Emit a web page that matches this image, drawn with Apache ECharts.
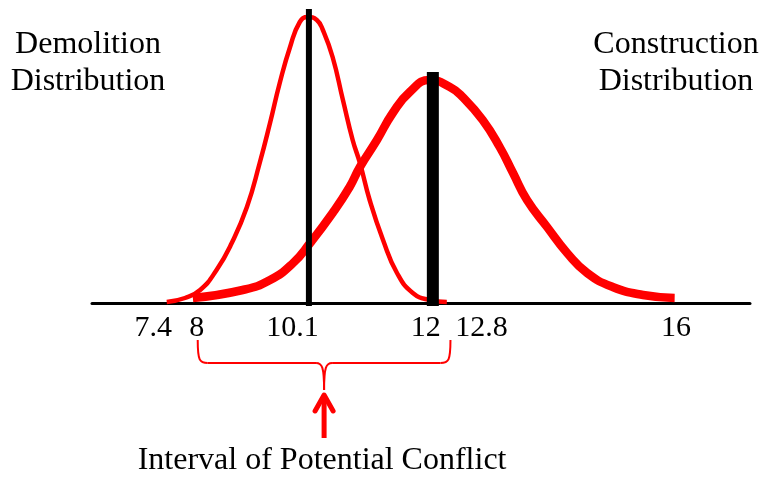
<!DOCTYPE html>
<html>
<head>
<meta charset="utf-8">
<style>
html, body { margin: 0; padding: 0; background: #fff; }
#main { width: 759px; height: 478px; }
</style>
<script src="https://cdn.jsdelivr.net/npm/echarts@6/dist/echarts.min.js"></script>
</head>
<body>
<div id="main"></div>
<script>
// tick labels on the x axis
var tickValues = [7.4, 8, 10.1, 12, 12.8, 16];

// curves (x in axis units, y in relative height)
var demolitionX = [7.62, 7.92, 8.17, 8.44, 8.69, 8.94, 9.15, 9.32, 9.48, 9.65, 9.81, 9.94, 10.09, 10.19, 10.35, 10.52, 10.68, 10.80, 10.96, 11.18, 11.41, 11.67, 11.95, 12.23];
var demolitionY = [1, 5, 13, 33, 60, 96, 140, 180, 220, 256, 281, 286, 283, 273, 246, 203, 163, 140, 103, 63, 30, 10, 3, 1];

var constructionX = [8.05, 8.87, 9.32, 9.70, 9.98, 10.35, 10.63, 10.80, 11.08, 11.34, 11.62, 11.95, 12.28, 12.49, 12.82, 13.10, 13.32, 13.55, 13.88, 14.21, 14.54, 14.96, 15.46, 15.98];
var constructionY = [5, 13, 23, 40, 60, 90, 116, 136, 163, 190, 211, 223, 216, 206, 183, 156, 130, 103, 76, 50, 30, 16, 8, 5];

// the two black mean lines, as drawn
var meanX = [9.96, 12];
var meanTop = [294, 231];

// ends of the brace under the axis
var conflictRange = [8.13, 12.29];

var serif = '"Liberation Serif", "Times New Roman", serif';

function zip(xs, ys) {
    return xs.map(function (x, i) { return [x, ys[i]]; });
}

// small nudges so the labels sit where the sketch has them
var labelShift = { '8': 'r', '10.1': 'l2', '12': 'l' };

var chart = echarts.init(document.getElementById('main'));

var option = {
    animation: false,
    grid: { left: 92, right: 9, top: 3, bottom: 175 },
    xAxis: {
        type: 'value',
        min: 6.39,
        max: 17.22,
        splitLine: { show: false },
        axisTick: { show: false },
        axisLine: { lineStyle: { color: '#000', width: 3 } },
        axisLabel: {
            customValues: tickValues,
            margin: 10,
            color: '#000',
            fontSize: 30,
            fontFamily: serif,
            formatter: function (v) {
                var s = String(v);
                var k = labelShift[s];
                return k ? '{' + k + '|' + s + '}' : s;
            },
            rich: {
                r: { fontSize: 30, fontFamily: serif, color: '#000', padding: [0, 0, 0, 14] },
                l: { fontSize: 30, fontFamily: serif, color: '#000', padding: [0, 14, 0, 0] },
                l2: { fontSize: 30, fontFamily: serif, color: '#000', padding: [0, 50, 0, 0] }
            }
        }
    },
    yAxis: {
        type: 'value',
        min: 0,
        max: 300,
        show: false
    },
    series: [
        {
            type: 'line',
            data: zip(demolitionX, demolitionY),
            smooth: 0.5,
            symbol: 'none',
            lineStyle: { color: '#ff0000', width: 4.5 },
            z: 2
        },
        {
            type: 'line',
            data: zip(constructionX, constructionY),
            smooth: 0.5,
            symbol: 'none',
            lineStyle: { color: '#ff0000', width: 8.5 },
            z: 2
        },
        {
            type: 'line',
            data: [[meanX[0], -3], [meanX[0], meanTop[0]]],
            symbol: 'none',
            clip: false,
            lineStyle: { color: '#000', width: 6, cap: 'butt' },
            z: 3
        },
        {
            type: 'line',
            data: [[meanX[1], -3], [meanX[1], meanTop[1]]],
            symbol: 'none',
            clip: false,
            lineStyle: { color: '#000', width: 12, cap: 'butt' },
            z: 3
        }
    ]
};

chart.setOption(option);

// brace and arrow placed from the axis scale
var p0 = chart.convertToPixel({ gridIndex: 0 }, [conflictRange[0], 0]);
var p1 = chart.convertToPixel({ gridIndex: 0 }, [conflictRange[1], 0]);
var L = p0[0], R = p1[0], cx = (L + R) / 2, ay = p0[1];
var braceTop = ay + 37, braceMid = ay + 60, braceTip = ay + 87;

function redStyle() {
    return { fill: 'none', stroke: '#ff0000', lineWidth: 2 };
}

function curve(x1, y1, c1x, c1y, c2x, c2y, x2, y2) {
    return {
        type: 'bezierCurve',
        shape: { x1: x1, y1: y1, cpx1: c1x, cpy1: c1y, cpx2: c2x, cpy2: c2y, x2: x2, y2: y2 },
        style: redStyle()
    };
}
function seg(x1, y1, x2, y2) {
    return { type: 'line', shape: { x1: x1, y1: y1, x2: x2, y2: y2 }, style: redStyle() };
}

var brace = [
    curve(L, braceTop, L, braceMid - 2, L + 2, braceMid, L + 10, braceMid),
    seg(L + 10, braceMid, cx - 8, braceMid),
    curve(cx - 8, braceMid, cx - 2, braceMid, cx, braceMid + 4, cx, braceTip),
    curve(cx, braceTip, cx, braceMid + 4, cx + 2, braceMid, cx + 8, braceMid),
    seg(cx + 8, braceMid, R - 10, braceMid),
    curve(R - 10, braceMid, R - 2, braceMid, R, braceMid - 2, R, braceTop)
];

function label(x, y, text) {
    return {
        type: 'text',
        x: x,
        y: y,
        style: {
            text: text,
            fontSize: 32,
            fontFamily: serif,
            lineHeight: 37,
            fill: '#000',
            align: 'center',
            verticalAlign: 'top'
        }
    };
}

chart.setOption({
    graphic: brace.concat([
        {
            type: 'line',
            shape: { x1: cx, y1: ay + 135, x2: cx, y2: ay + 93 },
            style: { stroke: '#ff0000', lineWidth: 5 }
        },
        {
            type: 'polyline',
            shape: { points: [[cx - 9, ay + 108], [cx, ay + 92], [cx + 9, ay + 108]] },
            style: { fill: 'none', stroke: '#ff0000', lineWidth: 5, lineJoin: 'round', lineCap: 'round' }
        },
        label(88, 26, 'Demolition\nDistribution'),
        label(676, 26, 'Construction\nDistribution'),
        label(cx - 2, 442, 'Interval of Potential Conflict')
    ])
});

window.onresize = function () {
    chart.resize();
};
</script>
</body>
</html>
